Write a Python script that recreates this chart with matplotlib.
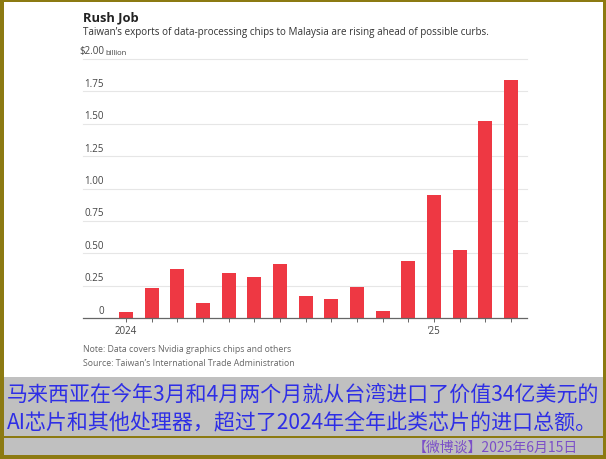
import matplotlib
matplotlib.use("Agg")
import matplotlib.pyplot as plt
from matplotlib.patches import Rectangle

months = ["Jan 2024", "Feb", "Mar", "Apr", "May", "Jun", "Jul", "Aug", "Sep", "Oct", "Nov", "Dec",
          "Jan 2025", "Feb", "Mar", "Apr"]
values = [0.05, 0.23, 0.38, 0.12, 0.35, 0.32, 0.42, 0.17, 0.15, 0.24, 0.06, 0.44,
          0.95, 0.53, 1.52, 1.84]
ytick_vals = [0, 0.25, 0.50, 0.75, 1.00, 1.25, 1.50, 1.75, 2.00]
ytick_labels = ["0", "0.25", "0.50", "0.75", "1.00", "1.25", "1.50", "1.75", "$2.00"]
xtick_labels = {0: "2024", 12: "\u201925"}

title = "Rush Job"
subtitle = "Taiwan\u2019s exports of data-processing chips to Malaysia are rising ahead of possible curbs."
note1 = "Note: Data covers Nvidia graphics chips and others"
note2 = "Source: Taiwan\u2019s International Trade Administration"
cn1 = "马来西亚在今年3月和4月两个月就从台湾进口了价值34亿美元的"
cn2 = "AI芯片和其他处理器，超过了2024年全年此类芯片的进口总额。"
cn3 = "【微博谈】2025年6月15日"

W, H = 606, 460
fig = plt.figure(figsize=(W / 100, H / 100), dpi=100)
fig.patch.set_facecolor("#8c7a12")

def fx(x):
    return x / W

def fy(y):
    return 1 - y / H

# white chart panel
fig.patches.append(Rectangle((fx(4), fy(378)), fx(599), (378 - 3) / H,
                             transform=fig.transFigure, facecolor="white", edgecolor="none", zorder=-2))
# gray caption panel
fig.patches.append(Rectangle((fx(4), fy(456)), fx(599), (456 - 378) / H,
                             transform=fig.transFigure, facecolor="#c0c0c0", edgecolor="none", zorder=-2))
# gold separator
fig.patches.append(Rectangle((fx(4), fy(438.5)), fx(599), 1.6 / H,
                             transform=fig.transFigure, facecolor="#8c7a12", edgecolor="none", zorder=-1))

ax_left, ax_right, ax_top, ax_bot = 83, 527, 60, 319.3
ax = fig.add_axes([fx(ax_left), fy(ax_bot), fx(ax_right - ax_left), (ax_bot - ax_top) / H])
ax.set_facecolor("none")
ax.set_zorder(5)

x = list(range(len(values)))
ax.bar(x, values, width=0.55, color="#ee3843", zorder=3)

month_px = (434 - 126) / 12.0
ax.set_xlim((ax_left - 126) / month_px, (ax_right - 126) / month_px)
ax.set_ylim(0, 2.0)

for v in ytick_vals[1:]:
    ax.axhline(v, color="#e6e6e6", lw=0.8, zorder=1, clip_on=False)

for s in ["top", "right", "left"]:
    ax.spines[s].set_visible(False)
ax.spines["bottom"].set_color("#666666")
ax.spines["bottom"].set_linewidth(0.9)
ax.spines["bottom"].set_zorder(4)

ax.set_yticks([])
ax.set_xticks(x)
ax.set_xticklabels([xtick_labels.get(i, "") for i in x], fontsize=7, color="#444444",
                   family=["Open Sans", "DejaVu Sans"])
ax.tick_params(axis="x", length=3, width=0.7, color="#666666", pad=2)

lab_x = (104 - ax_left) / (ax_right - ax_left)
tr = ax.get_yaxis_transform()
for v, lab in zip(ytick_vals, ytick_labels):
    ax.text(lab_x, v + 0.02, lab, transform=tr, ha="right", va="bottom", fontsize=7,
            color="#444444", family=["Open Sans", "DejaVu Sans"])
ax.text(lab_x + 0.004, 2.02, "billion", transform=tr, ha="left", va="bottom", fontsize=5.5,
        color="#444444", family=["Open Sans", "DejaVu Sans"])

fig.text(fx(83), fy(18), title, fontsize=9.3, fontweight="bold", color="#222222",
         va="center", ha="left", family=["Open Sans", "DejaVu Sans"])
fig.text(fx(83), fy(33), subtitle, fontsize=7.15, color="#333333",
         va="center", ha="left", family=["Open Sans", "DejaVu Sans"])
fig.text(fx(83), fy(350), note1, fontsize=6.3, color="#666666",
         va="center", ha="left", family=["Open Sans", "DejaVu Sans"])
fig.text(fx(83), fy(364), note2, fontsize=6.3, color="#666666",
         va="center", ha="left", family=["Open Sans", "DejaVu Sans"])

cjk = ["Noto Sans CJK SC", "DejaVu Sans"]
fig.text(fx(7), fy(395), cn1, fontsize=15.1, color="#2e2ee6", va="center", ha="left", family=cjk)
fig.text(fx(7), fy(423), cn2, fontsize=15.1, color="#2e2ee6", va="center", ha="left", family=cjk)
fig.text(fx(578), fy(447.5), cn3, fontsize=10, color="#7b4fc8", va="center", ha="right", family=cjk)

fig.savefig("out.png", dpi=100, facecolor=fig.get_facecolor())
